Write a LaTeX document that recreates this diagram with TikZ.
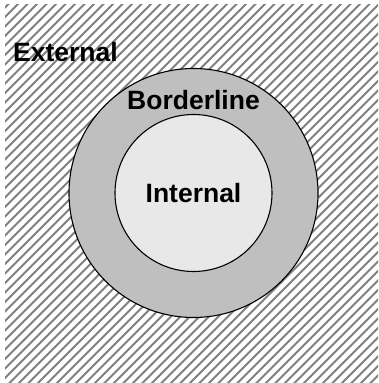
\documentclass[tikz,border=0pt]{standalone}
\usepackage{fontspec}
\setmainfont{Liberation Sans}
\begin{document}
\begin{tikzpicture}[x=1pt,y=1pt,
  hatchline/.style={draw=black!50, line width=2pt},
  ring/.style={draw=black, line width=1.1pt},
  zonelabel/.style={font=\fontsize{26.5}{29}\selectfont\bfseries, text=black, inner sep=0pt}]
  \useasboundingbox (0,0) rectangle (378,383);
  \fill[white] (0,0) rectangle (378,383);
  % hatched outer region
  \begin{scope}
    \clip (5,0) rectangle (378,378);
    \foreach \k in {-45,...,45} {
      \draw[hatchline] ({\k*9.5-10},-10) -- ({\k*9.5+400},400);
    }
  \end{scope}
  % borderline ring and internal disc
  \node[circle, ring, fill=black!25, minimum size=249pt, inner sep=0pt] (outer) at (193.5,190) {};
  \node[circle, ring, fill=black!9, minimum size=157pt, inner sep=0pt] (inner) at (193.5,190) {};
  % labels
  \node[zonelabel] (ext) at (65.5,331) {External};
  \node[zonelabel] (bord) at (193.5,283) {Borderline};
  \node[zonelabel] (int) at (193.5,190) {Internal};
\end{tikzpicture}
\end{document}
